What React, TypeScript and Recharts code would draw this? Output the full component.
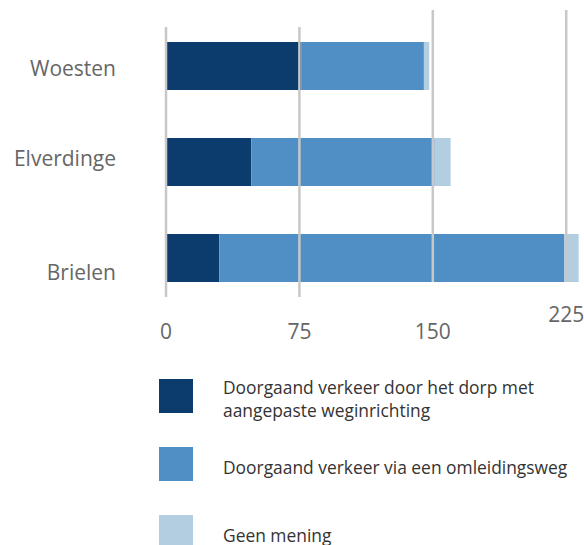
import React from 'react';
import {Bar, BarChart, ReferenceLine, XAxis, YAxis} from 'recharts';

const villages = ['Woesten', 'Elverdinge', 'Brielen'];
const throughVillage = [76, 48, 30];
const bypass = [69, 103, 194];
const noOpinion = [3, 9, 8];
const xTicks = [0, 75, 150, 225];

const seriesNames = [
    'Doorgaand verkeer door het dorp met aangepaste weginrichting',
    'Doorgaand verkeer via een omleidingsweg',
    'Geen mening',
];
const seriesColors = ['#0b3c6d', '#4f8fc5', '#b3cde1'];

const data = villages.map((name, i) => ({
    name,
    dorp: throughVillage[i],
    omleiding: bypass[i],
    geen: noOpinion[i],
}));

const FONT = '"Open Sans", sans-serif';

// the original labels are a bit off-centre, keep that
const yLabelShift = [10, 4, 22];
const raisedTick = 225;

const YTick = (props: any) => {
    const {x, y, payload, index} = props;
    return (
        <text x={x} y={y + yLabelShift[index]} textAnchor="end" fill="#666" fontSize={21} fontFamily={FONT}>
            {payload.value}
        </text>
    );
};

const XTick = (props: any) => {
    const {x, y, payload} = props;
    const base = payload.value === raisedTick ? 8 : 25;
    return (
        <text x={x} y={y + base} textAnchor="middle" fill="#666" fontSize={21} fontFamily={FONT}>
            {payload.value}
        </text>
    );
};

// grid lines sit on top of the bars, the right two are shifted up
const makeGridLine = (value: number) => (props: any) => {
    const {x1, x2, y1, y2} = props;
    const up = value >= 150;
    const top = Math.min(y1, y2) + (up ? -8 : 9);
    const bottom = Math.max(y1, y2) + (up ? -24 : -9);
    return <line x1={x1} x2={x2} y1={top} y2={bottom} stroke="#c8c8c8" strokeWidth={2.5}/>;
};
const gridShapes = xTicks.map(makeGridLine);

const LegendBox = () => (
    <div style={{position: 'absolute', left: 0, top: 379, width: 584, fontFamily: FONT, fontSize: 17.4, color: '#333', lineHeight: '23px'}}>
        {seriesNames.map((name, i) => (
            <div key={name} style={{display: 'flex', alignItems: 'center', height: 34, marginBottom: 34}}>
                <div style={{width: 34, height: 34, background: seriesColors[i], marginLeft: 159, flexShrink: 0}}/>
                <div style={{marginLeft: 30, width: 360, position: 'relative', top: 3}}>{name}</div>
            </div>
        ))}
    </div>
);

const App: React.FC = () => {
    return (
        <div style={{position: 'absolute', left: 0, top: 0, width: 584, height: 545, overflow: 'hidden'}}>
            <BarChart
                width={584}
                height={545}
                data={data}
                layout="vertical"
                barSize={48}
                margin={{top: 18, right: 0, bottom: 209, left: 0}}
            >
                <XAxis
                    type="number"
                    domain={[0, 235]}
                    ticks={xTicks}
                    axisLine={false}
                    tickLine={false}
                    tick={<XTick/>}
                    height={30}
                />
                <YAxis
                    type="category"
                    dataKey="name"
                    width={166}
                    axisLine={false}
                    tickLine={false}
                    tickMargin={44}
                    tick={<YTick/>}
                />
                <Bar dataKey="dorp" stackId="a" fill={seriesColors[0]} isAnimationActive={false}/>
                <Bar dataKey="omleiding" stackId="a" fill={seriesColors[1]} isAnimationActive={false}/>
                <Bar dataKey="geen" stackId="a" fill={seriesColors[2]} isAnimationActive={false}/>
                <ReferenceLine x={xTicks[0]} shape={gridShapes[0]}/>
                <ReferenceLine x={xTicks[1]} shape={gridShapes[1]}/>
                <ReferenceLine x={xTicks[2]} shape={gridShapes[2]}/>
                <ReferenceLine x={xTicks[3]} shape={gridShapes[3]}/>
            </BarChart>
            <LegendBox/>
        </div>
    );
};

export default App;
